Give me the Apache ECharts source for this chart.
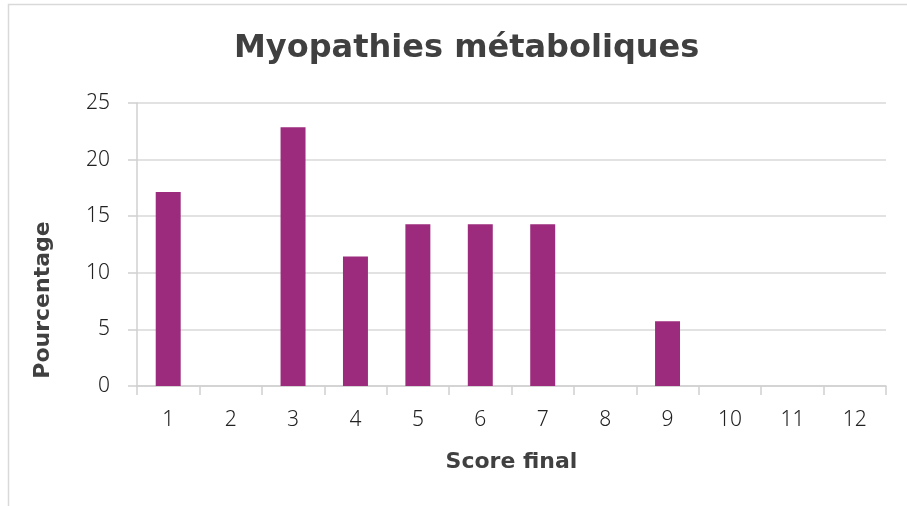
<!DOCTYPE html>
<html>
<head>
<meta charset="utf-8">
<style>
  html, body { margin: 0; padding: 0; background: #ffffff; }
  #chart { width: 907px; height: 506px; }
</style>
<script src="https://cdn.jsdelivr.net/npm/echarts@6/dist/echarts.min.js"></script>
</head>
<body>
<div id="chart"></div>
<script>
// Final score categories and share of patients (%)
const scores = ['1', '2', '3', '4', '5', '6', '7', '8', '9', '10', '11', '12'];
const percentages = [17.14, 0, 22.86, 11.43, 14.29, 14.29, 14.29, 0, 5.71, 0, 0, 0];
const yTicks = { min: 0, max: 25, step: 5 };

const titleText = 'Myopathies métaboliques';
const xName = 'Score final';
const yName = 'Pourcentage';

const textColor = '#404040';
const boldFont = "'DejaVu Sans', 'Noto Sans', sans-serif";
const labelFont = "'Noto Sans', 'DejaVu Sans', sans-serif";

const chart = echarts.init(document.getElementById('chart'), null, { renderer: 'canvas' });

chart.setOption({
  backgroundColor: '#ffffff',
  animation: false,
  title: {
    text: titleText,
    left: 229,
    top: 28,
    textStyle: {
      fontFamily: boldFont,
      fontWeight: 'bold',
      fontSize: 32,
      color: textColor
    }
  },
  grid: { left: 137, right: 21, top: 103, bottom: 120, containLabel: false },
  xAxis: {
    type: 'category',
    data: scores,
    boundaryGap: true,
    name: xName,
    nameLocation: 'middle',
    nameGap: 65,
    nameTextStyle: {
      fontFamily: boldFont,
      fontWeight: 'bold',
      fontSize: 22,
      color: textColor
    },
    axisLine: { show: true, lineStyle: { color: '#d0d0d0', width: 1.5 } },
    axisTick: { show: true, length: 9, alignWithLabel: false, lineStyle: { color: '#d0d0d0', width: 1.5 } },
    axisLabel: {
      margin: 24,
      fontFamily: labelFont,
      fontSize: 21,
      fontWeight: 300,
      color: '#222222'
    },
    splitLine: { show: false }
  },
  yAxis: {
    type: 'value',
    min: yTicks.min,
    max: yTicks.max,
    interval: yTicks.step,
    axisLine: { show: true, lineStyle: { color: '#d0d0d0', width: 1.5 } },
    axisTick: { show: true, length: 9, lineStyle: { color: '#d0d0d0', width: 1.5 } },
    axisLabel: {
      margin: 27,
      fontFamily: labelFont,
      fontSize: 21,
      fontWeight: 300,
      color: '#222222'
    },
    splitLine: { show: true, lineStyle: { color: '#d9d9d9', width: 1.5 } }
  },
  series: [{
    type: 'bar',
    data: percentages,
    barWidth: '40%',
    itemStyle: { color: '#9C2A7D' }
  }],
  graphic: [
    {
      type: 'polyline',
      shape: { points: [[8.5, 506], [8.5, 4.5], [907, 4.5]] },
      style: { stroke: '#d9d9d9', lineWidth: 1.5, fill: null },
      silent: true
    },
    {
      type: 'text',
      x: 43,
      y: 300,
      rotation: Math.PI / 2,
      style: {
        text: yName,
        fontFamily: boldFont,
        fontWeight: 'bold',
        fontSize: 22,
        fill: textColor,
        align: 'center',
        verticalAlign: 'middle'
      }
    }
  ]
});
</script>
</body>
</html>
